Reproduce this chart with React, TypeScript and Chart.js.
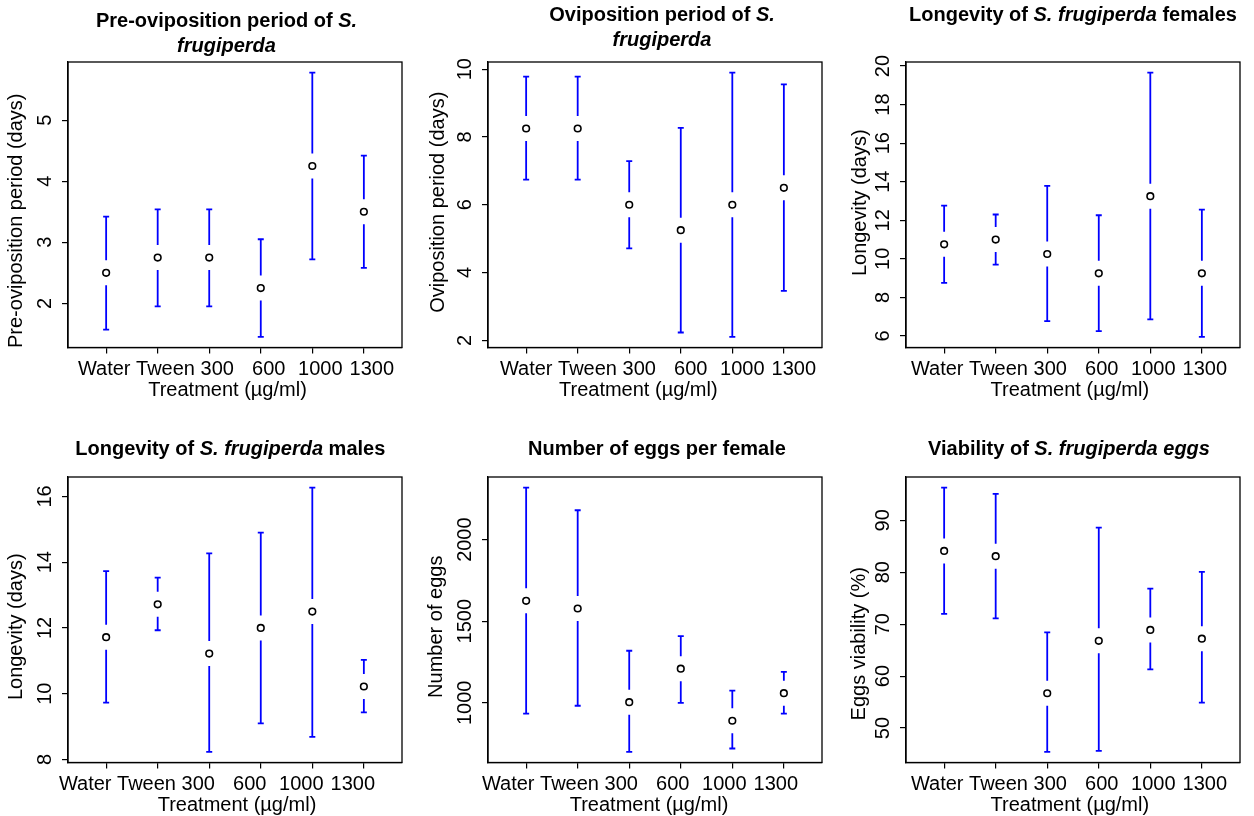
import React, { useEffect, useRef } from "react";
import { Chart, registerables } from "chart.js";

Chart.register(...registerables);

// ---------------- data ----------------
const CATEGORIES = ["Water", "Tween", "300", "600", "1000", "1300"];

const PRE_MEAN = [2.5, 2.75, 2.75, 2.25, 4.25, 3.5];
const PRE_LOW = [1.57, 1.95, 1.95, 1.45, 2.72, 2.58];
const PRE_HIGH = [3.42, 3.54, 3.54, 3.05, 5.78, 4.42];
const PRE_TICKS = [2, 3, 4, 5];

const OVI_MEAN = [8.25, 8.25, 6.0, 5.25, 6.0, 6.5];
const OVI_LOW = [6.74, 6.74, 4.71, 2.23, 2.1, 3.46];
const OVI_HIGH = [9.78, 9.78, 7.29, 8.27, 9.9, 9.55];
const OVI_TICKS = [2, 4, 6, 8, 10];

const FEM_MEAN = [10.75, 11.0, 10.25, 9.25, 13.25, 9.25];
const FEM_LOW = [8.75, 9.7, 6.77, 6.25, 6.86, 5.95];
const FEM_HIGH = [12.76, 12.3, 13.78, 12.26, 19.66, 12.55];
const FEM_TICKS = [6, 8, 10, 12, 14, 16, 18, 20];

const MALE_MEAN = [11.72, 12.72, 11.22, 12.0, 12.5, 10.22];
const MALE_LOW = [9.73, 11.93, 8.23, 9.1, 8.69, 9.43];
const MALE_HIGH = [13.73, 13.53, 14.27, 14.9, 16.27, 11.03];
const MALE_TICKS = [8, 10, 12, 14, 16];

const EGG_MEAN = [1625, 1578, 1004, 1209, 890, 1059];
const EGG_LOW = [934, 982, 699, 1000, 720, 934];
const EGG_HIGH = [2319, 2180, 1319, 1409, 1075, 1190];
const EGG_TICKS = [1000, 1500, 2000];

const VIA_MEAN = [84.1, 83.1, 56.7, 66.8, 68.9, 67.2];
const VIA_LOW = [72.0, 71.1, 45.4, 45.6, 61.3, 54.9];
const VIA_HIGH = [96.3, 95.1, 68.4, 88.6, 76.85, 80.05];
const VIA_TICKS = [50, 60, 70, 80, 90];

const X_TITLE = "Treatment (µg/ml)";

// ---------------- layout / style ----------------
const FAMILY = '"Liberation Sans", Arial, Helvetica, sans-serif';
const TEXT_SIZE = 20;
const CANVAS_W = 418;
const CANVAS_H = 410;
const BOX_LEFT = 70;
const BOX_RIGHT = 404;
const BOX_TOP = 62;
const BOX_BOTTOM = 347.5;
const GAP = 12.5;
const CAP = 3;
const BLUE = "#0000ff";

type Seg = { t: string; i?: boolean };
type Spec = {
  title: Seg[][];
  yTitle: string;
  mean: number[];
  low: number[];
  high: number[];
  ticks: number[];
  left: number;
  top: number;
  titleY: number;
  titleDx: number;
  yTitleX: number;
  yTitleDy: number;
  xTitleDx: number;
  labelShift: number;
};

const PANELS: Spec[] = [
  {
    title: [[{ t: "Pre-oviposition period of " }, { t: "S.", i: true }], [{ t: "frugiperda", i: true }]],
    yTitle: "Pre-oviposition period (days)",
    mean: PRE_MEAN, low: PRE_LOW, high: PRE_HIGH, ticks: PRE_TICKS,
    left: -2, top: 0, titleY: 21.2, titleDx: -8.5, yTitleX: 18.7, yTitleDy: 16, xTitleDx: -7.5, labelShift: 8,
  },
  {
    title: [[{ t: "Oviposition period of " }, { t: "S.", i: true }], [{ t: "frugiperda", i: true }]],
    yTitle: "Oviposition period (days)",
    mean: OVI_MEAN, low: OVI_LOW, high: OVI_HIGH, ticks: OVI_TICKS,
    left: 418, top: 0, titleY: 15, titleDx: 7, yTitleX: 20.3, yTitleDy: -2.5, xTitleDx: -16.7, labelShift: 10,
  },
  {
    title: [[{ t: "Longevity of " }, { t: "S. frugiperda", i: true }, { t: " females" }]],
    yTitle: "Longevity (days)",
    mean: FEM_MEAN, low: FEM_LOW, high: FEM_HIGH, ticks: FEM_TICKS,
    left: 836, top: 0, titleY: 15.5, titleDx: 0, yTitleX: 24.7, yTitleDy: -2, xTitleDx: -3.2, labelShift: 3,
  },
  {
    title: [[{ t: "Longevity of " }, { t: "S. frugiperda", i: true }, { t: " males" }]],
    yTitle: "Longevity (days)",
    mean: MALE_MEAN, low: MALE_LOW, high: MALE_HIGH, ticks: MALE_TICKS,
    left: -2, top: 414.5, titleY: 34.8, titleDx: -4.7, yTitleX: 18.7, yTitleDy: 7, xTitleDx: 2, labelShift: -11,
  },
  {
    title: [[{ t: "Number of eggs per female" }]],
    yTitle: "Number of eggs",
    mean: EGG_MEAN, low: EGG_LOW, high: EGG_HIGH, ticks: EGG_TICKS,
    left: 418, top: 414.5, titleY: 34.8, titleDx: 2, yTitleX: 18.7, yTitleDy: 7, xTitleDx: -6, labelShift: -8,
  },
  {
    title: [[{ t: "Viability of " }, { t: "S. frugiperda eggs", i: true }]],
    yTitle: "Eggs viability (%)",
    mean: VIA_MEAN, low: VIA_LOW, high: VIA_HIGH, ticks: VIA_TICKS,
    left: 836, top: 414.5, titleY: 34.8, titleDx: -4, yTitleX: 23, yTitleDy: 24, xTitleDx: -3.2, labelShift: 3,
  },
];

const plainFont = `${TEXT_SIZE}px ${FAMILY}`;
const segFont = (s: Seg) => `${s.i ? "italic " : ""}bold ${TEXT_SIZE}px ${FAMILY}`;

function makePlugin(spec: Spec) {
  return {
    id: "rstyle",
    beforeDatasetsDraw(chart: any) {
      const { ctx } = chart;
      const xs = chart.scales.x;
      const ys = chart.scales.y;
      ctx.save();
      ctx.strokeStyle = BLUE;
      ctx.lineWidth = 1.8;
      spec.mean.forEach((m, i) => {
        const px = xs.getPixelForValue(i + 1);
        const yh = ys.getPixelForValue(spec.high[i]);
        const yl = ys.getPixelForValue(spec.low[i]);
        const ym = ys.getPixelForValue(m);
        ctx.beginPath();
        if (ym - GAP > yh) {
          ctx.moveTo(px, yh);
          ctx.lineTo(px, ym - GAP);
        }
        if (ym + GAP < yl) {
          ctx.moveTo(px, ym + GAP);
          ctx.lineTo(px, yl);
        }
        ctx.moveTo(px - CAP, yh);
        ctx.lineTo(px + CAP, yh);
        ctx.moveTo(px - CAP, yl);
        ctx.lineTo(px + CAP, yl);
        ctx.stroke();
      });
      ctx.restore();
    },
    afterDraw(chart: any) {
      const { ctx, chartArea } = chart;
      const xs = chart.scales.x;
      const ys = chart.scales.y;
      const { left, right, top, bottom } = chartArea;
      const cx = (left + right) / 2;
      const cy = (top + bottom) / 2;
      ctx.save();
      // box
      ctx.strokeStyle = "#000";
      ctx.lineWidth = 1.3;
      ctx.strokeRect(left, top, right - left, bottom - top);

      ctx.fillStyle = "#000";
      ctx.textBaseline = "middle";

      // x tick labels
      ctx.font = plainFont;
      ctx.textAlign = "center";
      const spaceW = ctx.measureText(" ").width;
      const widths = CATEGORIES.map((c) => ctx.measureText(c).width);
      const centers = CATEGORIES.map((_, i) => xs.getPixelForValue(i + 1) + spec.labelShift);
      for (let i = CATEGORIES.length - 2; i >= 0; i--) {
        const limit = centers[i + 1] - widths[i + 1] / 2 - spaceW;
        if (centers[i] + widths[i] / 2 > limit) centers[i] = limit - widths[i] / 2;
      }
      CATEGORIES.forEach((c, i) => ctx.fillText(c, centers[i], bottom + 22));

      // x title
      ctx.fillText(X_TITLE, cx + spec.xTitleDx, bottom + 42.5);

      // y tick labels (rotated, R style)
      ys.ticks.forEach((t: any) => {
        const py = ys.getPixelForValue(t.value);
        ctx.save();
        ctx.translate(left - 22.5, py);
        ctx.rotate(-Math.PI / 2);
        ctx.fillText(String(t.value), 0, 0);
        ctx.restore();
      });

      // y title
      ctx.save();
      ctx.translate(spec.yTitleX, cy + spec.yTitleDy);
      ctx.rotate(-Math.PI / 2);
      ctx.fillText(spec.yTitle, 0, 0);
      ctx.restore();

      // chart title (mixed bold / bold italic)
      ctx.textAlign = "left";
      spec.title.forEach((line, li) => {
        const ws = line.map((s) => {
          ctx.font = segFont(s);
          return ctx.measureText(s.t).width;
        });
        const total = ws.reduce((a, b) => a + b, 0);
        let x = cx + spec.titleDx - total / 2;
        line.forEach((s, k) => {
          ctx.font = segFont(s);
          ctx.fillText(s.t, x, spec.titleY + li * 25);
          x += ws[k];
        });
      });
      ctx.restore();
    },
  };
}

function Panel({ spec }: { spec: Spec }) {
  const ref = useRef<HTMLCanvasElement>(null);
  useEffect(() => {
    if (!ref.current) return;
    const lo = Math.min(...spec.low);
    const hi = Math.max(...spec.high);
    const pad = (hi - lo) * 0.04;
    const axisCommon = {
      grid: { drawOnChartArea: false, drawTicks: true, tickLength: 6, color: "#000", lineWidth: 1.2 },
      border: { display: true, color: "#000", width: 1.3 },
      ticks: { display: false },
    };
    const chart = new Chart(ref.current, {
      type: "scatter",
      data: {
        datasets: [
          {
            data: spec.mean.map((m, i) => ({ x: i + 1, y: m })),
            pointRadius: 3.3,
            pointHoverRadius: 3.3,
            pointBorderWidth: 1.6,
            pointBorderColor: "#000",
            pointBackgroundColor: "#fff",
            showLine: false,
          },
        ],
      },
      options: {
        responsive: false,
        maintainAspectRatio: false,
        animation: false,
        events: [],
        layout: { padding: { left: 0, top: BOX_TOP, right: CANVAS_W - BOX_RIGHT, bottom: 0 } },
        plugins: {
          legend: { display: false },
          tooltip: { enabled: false },
          title: { display: false },
        },
        scales: {
          x: {
            type: "linear",
            min: 0.26,
            max: 6.74,
            ...axisCommon,
            afterBuildTicks: (s: any) => {
              s.ticks = CATEGORIES.map((_, i) => ({ value: i + 1 }));
            },
            afterFit: (s: any) => {
              s.height = CANVAS_H - BOX_BOTTOM;
            },
          },
          y: {
            type: "linear",
            min: lo - pad,
            max: hi + pad,
            ...axisCommon,
            afterBuildTicks: (s: any) => {
              s.ticks = spec.ticks.map((v) => ({ value: v }));
            },
            afterFit: (s: any) => {
              s.width = BOX_LEFT;
            },
          },
        },
      } as any,
      plugins: [makePlugin(spec)],
    });
    return () => chart.destroy();
  }, [spec]);
  return (
    <canvas
      ref={ref}
      width={CANVAS_W}
      height={CANVAS_H}
      style={{ position: "absolute", left: spec.left, top: spec.top, width: CANVAS_W, height: CANVAS_H }}
    />
  );
}

export default function App() {
  return (
    <div
      style={{
        position: "fixed",
        left: 0,
        top: 0,
        width: 1254,
        height: 816,
        overflow: "hidden",
        background: "#fff",
      }}
    >
      {PANELS.map((p, i) => (
        <Panel key={i} spec={p} />
      ))}
    </div>
  );
}
